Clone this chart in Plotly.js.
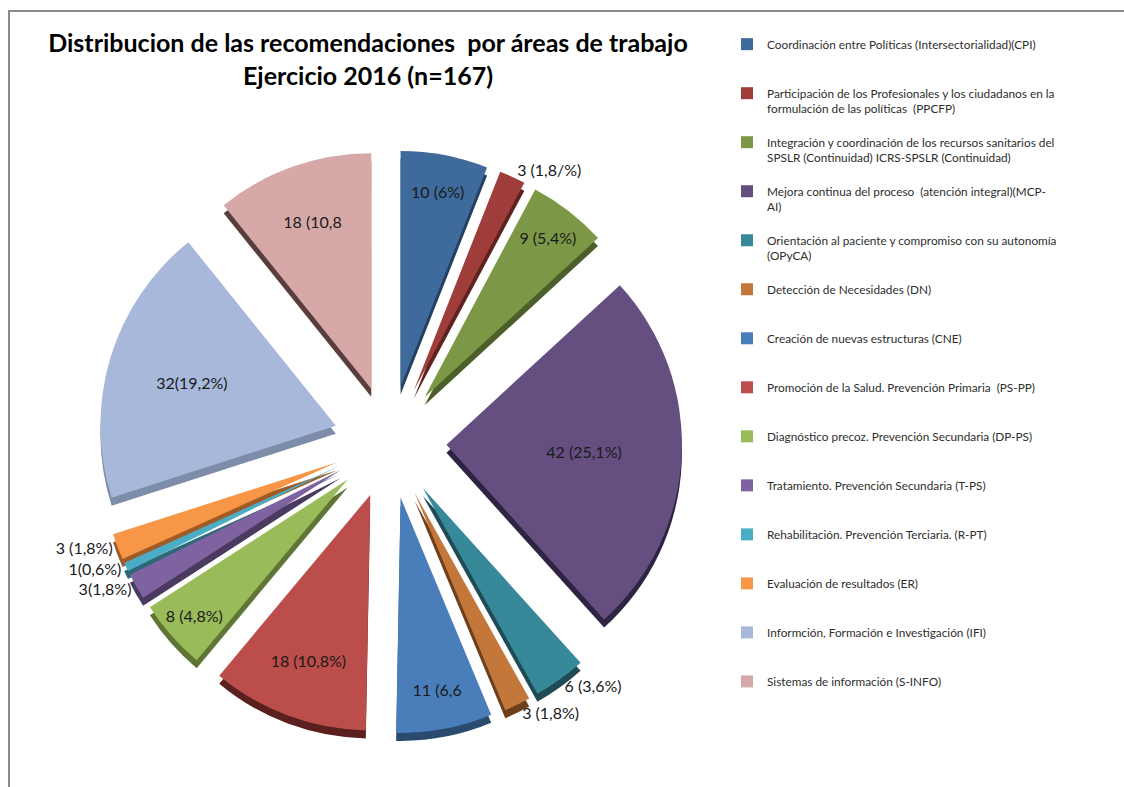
<!DOCTYPE html>
<html>
<head>
<meta charset="utf-8">
<script src="https://cdn.plot.ly/plotly-3.0.1.min.js"></script>
<style>html,body{margin:0;padding:0;background:#fff;}#chart{width:1124px;height:787px;}</style>
</head>
<body>
<div id="chart"></div>
<script>
// ---- data ----
const categories = [
  "Coordinación entre Políticas (Intersectorialidad)(CPI)",
  "Participación de los Profesionales y los ciudadanos en la<br>formulación de las políticas  (PPCFP)",
  "Integración y coordinación de los recursos sanitarios del<br>SPSLR (Continuidad) ICRS-SPSLR (Continuidad)",
  "Mejora continua del proceso  (atención integral)(MCP-<br>AI)",
  "Orientación al paciente y compromiso con su autonomía<br>(OPyCA)",
  "Detección de Necesidades (DN)",
  "Creación de nuevas estructuras (CNE)",
  "Promoción de la Salud. Prevención Primaria  (PS-PP)",
  "Diagnóstico precoz. Prevención Secundaria (DP-PS)",
  "Tratamiento. Prevención Secundaria (T-PS)",
  "Rehabilitación. Prevención Terciaria. (R-PT)",
  "Evaluación de resultados (ER)",
  "Informción, Formación e Investigación (IFI)",
  "Sistemas de información (S-INFO)"
];
const values = [10, 3, 9, 42, 6, 3, 11, 18, 8, 3, 1, 3, 32, 18];
const sliceLabels = [
  "10 (6%)", "3 (1,8/%)", "9 (5,4%)", "42 (25,1%)", "6 (3,6%)", "3 (1,8%)",
  "11 (6,6", "18 (10,8%)", "8 (4,8%)", "3(1,8%)", "1(0,6%)", "3 (1,8%)",
  "32(19,2%)", "18 (10,8"
];
const labelPlacement = [
  "inside", "outside", "inside", "inside", "outside", "outside",
  "inside", "inside", "inside", "outside", "outside", "outside",
  "inside", "inside"
];
const colors = ["#3F6A9C","#9E3D3A","#7C9847","#654F80","#378899","#C4773B",
  "#4A7EBB","#BB4D4A","#9ABB59","#7E63A0","#4BACC6","#F79646","#A7B8DA","#D6A9A8"];
const sideColors = ["#24405F","#5E2220","#4C5E29","#2E2340","#1E4B55","#6E3F1C",
  "#2B4A70","#5A1F1E","#5F7535","#4A3A60","#2C6878","#A05A25","#7D8CA8","#5A3E3D"];
const chartTitle = "Distribucion de las recomendaciones  por áreas de trabajo<br>Ejercicio 2016 (n=167)";

// pad legend names to equal 3-line height
function padName(n){
  const lines = n.split("<br>").length;
  let s = n;
  for (let i = lines; i < 3; i++) s += "<br> ";
  return s;
}
const legendLabels = categories.map(padName);

const FONT = "Lato, 'Open Sans', sans-serif";
const W = 1124, H = 787;
const cx = 390, cy = 442, R = 292;
const dom = {x:[(cx-R)/W,(cx+R)/W], y:[1-(cy+R)/H, 1-(cy-R)/H]};
const depth = 8;

const shadow = {
  type: "pie", values: values, labels: legendLabels, sort: false,
  direction: "clockwise", rotation: 0, pull: 0.24,
  marker: {colors: sideColors, line: {width: 0}},
  textinfo: "none", hoverinfo: "skip", showlegend: false,
  domain: {x: dom.x, y: [dom.y[0]-depth/H, dom.y[1]-depth/H]}
};
const main = {
  type: "pie", values: values, labels: legendLabels, sort: false,
  direction: "clockwise", rotation: 0, pull: 0.24,
  marker: {colors: colors, line: {width: 0}},
  text: sliceLabels, textinfo: "text", textposition: labelPlacement,
  insidetextorientation: "horizontal",
  textfont: {family: FONT, size: 16, color: "#1a1a1a"},
  outsidetextfont: {family: FONT, size: 16, color: "#1a1a1a"},
  hovertemplate: "%{label}: %{value}<extra></extra>",
  domain: dom
};

const layout = {
  width: W, height: H,
  margin: {l:0, r:0, t:0, b:0, autoexpand: false},
  paper_bgcolor: "#fff",
  font: {family: FONT, color: "#404040"},
  title: {text: chartTitle, x: 368/W, xanchor: "center", y: 1-52/H, yanchor: "top",
          font: {family: FONT, size: 25, color: "#000", weight: "bold"}},
  showlegend: true,
  legend: {x: 727/W, xanchor: "left", y: 1-30/H, yanchor: "top",
           valign: "top", font: {family: FONT, size: 11.8, color: "#2e2e2e"},
           bgcolor: "rgba(0,0,0,0)", traceorder: "normal"},
  shapes: [{type: "rect", xref: "paper", yref: "paper",
            x0: 9/W, x1: 1.02, y0: -0.02, y1: 1-11/H,
            line: {color: "#8a8a8a", width: 2}, fillcolor: "rgba(0,0,0,0)", layer: "below"}]
};

Plotly.newPlot("chart", [shadow, main], layout, {displayModeBar: false, responsive: false});
</script>
</body>
</html>
